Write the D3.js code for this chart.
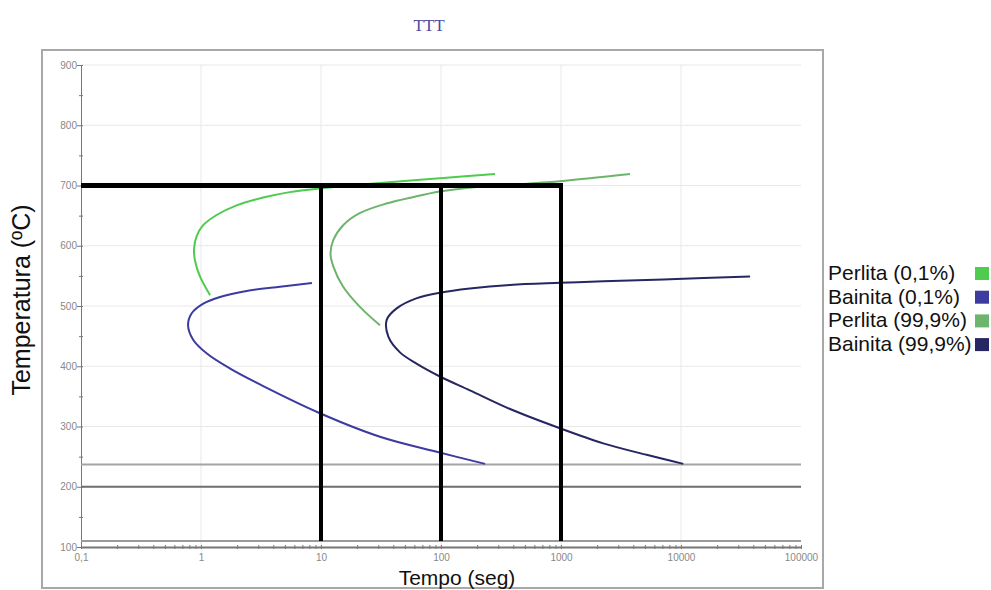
<!DOCTYPE html>
<html>
<head>
<meta charset="utf-8">
<script src="https://cdn.jsdelivr.net/npm/d3@7"></script>
<style>
  body { margin: 0; background: #fff; }
  svg { display: block; font-family: "Liberation Sans", Arial, sans-serif; }
  .axis path, .axis line { stroke: #777; }
  .axis text { fill: #888; font-size: 10px; font-family: "Liberation Sans", Arial, sans-serif; }
</style>
</head>
<body>
<div id="chart"></div>
<script>
// curves: time (s) and temperature (ºC)
const perlitaIniTime = [1.19, 0.98, 0.89, 0.875, 0.92, 1.03, 1.35, 1.98, 3.3, 5.5, 9.8, 16.4, 31, 111, 282];
const perlitaIniTemp = [518, 549, 576, 595, 616, 633, 651, 667, 680, 689, 695, 699.5, 704, 713, 719];

const bainitaIniTime = [8.4, 4.55, 2.4, 1.44, 1.045, 0.837, 0.78, 0.86, 1.12, 1.75, 3.3, 9.8, 31, 92, 233];
const bainitaIniTemp = [538, 532, 525, 515, 504, 488, 468, 444, 421, 396, 367, 322, 283, 258, 238];

const perlitaFinTime = [31, 21, 15.3, 12.7, 12.0, 12.7, 15.3, 21, 35, 59, 98, 211, 455, 977, 3760];
const perlitaFinTemp = [468, 499, 532, 565, 587, 610, 634, 654, 670, 681, 690, 698, 702, 707, 719];

const bainitaFinTime = [37600, 8090, 2250, 981, 376, 174, 98, 63, 42.7, 35.3, 36.4, 45.5, 63, 98, 174, 376, 981, 2250, 5160, 10450];
const bainitaFinTemp = [549, 544.5, 541, 538.5, 535, 529, 522, 513, 496, 477, 449, 423, 404, 383, 360, 329, 297, 272, 253, 238];

const seriesNames = ["Perlita (0,1%)", "Bainita (0,1%)", "Perlita (99,9%)", "Bainita (99,9%)"];
const seriesColors = ["#4fcb4f", "#3b3ba0", "#6db46d", "#262662"];

// reference lines
const msTemp = 237;
const mfTemp = 200;
const lowTemp = 110;
const holdTemp = 700;
const holdTimes = [10, 100, 1000];

const xTicks = [0.1, 1, 10, 100, 1000, 10000, 100000];
const xTickLabels = ["0,1", "1", "10", "100", "1000", "10000", "100000"];
const yTicks = [100, 200, 300, 400, 500, 600, 700, 800, 900];

const W = 991, H = 590;

const svg = d3.select("#chart")
    .append("svg")
    .attr("width", W)
    .attr("height", H);

const x = d3.scaleLog()
    .domain([0.1, 100000])
    .range([81, 801]);

const y = d3.scaleLinear()
    .domain([100, 900])
    .range([547, 65]);

// title
svg.append("text")
    .attr("x", 429)
    .attr("y", 31)
    .attr("text-anchor", "middle")
    .attr("font-family", "'Liberation Serif', 'DejaVu Serif', serif")
    .attr("font-size", 17)
    .attr("fill", "#4a4aa2")
    .text("TTT");

// frame
svg.append("rect")
    .attr("x", 42)
    .attr("y", 50)
    .attr("width", 781)
    .attr("height", 538)
    .attr("fill", "none")
    .attr("stroke", "#a8a8a8")
    .attr("stroke-width", 2);

// grid
svg.append("g")
    .selectAll("line")
    .data(yTicks.filter(d => d > 100))
    .join("line")
    .attr("x1", x(0.1))
    .attr("x2", x(100000))
    .attr("y1", d => y(d))
    .attr("y2", d => y(d))
    .attr("stroke", "#e8e8e8");

svg.append("g")
    .selectAll("line")
    .data(xTicks.slice(1, -1))
    .join("line")
    .attr("x1", d => x(d))
    .attr("x2", d => x(d))
    .attr("y1", y(900))
    .attr("y2", y(100))
    .attr("stroke", "#e8e8e8");

// x axis: minor ticks
const minorX = x.ticks().filter(d => d >= 0.1 && d <= 100000);
const gxMinor = svg.append("g")
    .attr("class", "axis")
    .attr("transform", `translate(0,${y(100)})`)
    .call(d3.axisBottom(x).tickValues(minorX).tickFormat("").tickSizeOuter(0));
gxMinor.select(".domain").attr("stroke", "#666").attr("stroke-width", 2);
gxMinor.selectAll(".tick line").attr("y1", -2).attr("y2", 2).attr("stroke", "#555");

// x axis labels
const gx = svg.append("g")
    .attr("class", "axis")
    .attr("transform", `translate(0,${y(100)})`)
    .call(d3.axisBottom(x)
        .tickValues(xTicks)
        .tickFormat((d, i) => xTickLabels[i])
        .tickSize(2)
        .tickPadding(5));
gx.select(".domain").remove();
gx.selectAll(".tick line").attr("y1", -2).attr("stroke", "#555");

// y axis
const minorY = d3.range(100, 901, 50);
const gy = svg.append("g")
    .attr("class", "axis")
    .attr("transform", `translate(${x(0.1)},0)`)
    .call(d3.axisLeft(y)
        .tickValues(minorY)
        .tickFormat(d => d % 100 === 0 ? d : "")
        .tickSize(3)
        .tickPadding(1)
        .tickSizeOuter(0));
gy.select(".domain").attr("stroke", "#888");
gy.selectAll(".tick line").attr("x2", d => d % 100 === 0 ? -4 : -2).attr("x1", 2).attr("stroke", "#666");

// horizontal temperature lines
const hLines = [
    { t: msTemp, color: "#a4a4a4" },
    { t: mfTemp, color: "#6e6e6e" },
    { t: lowTemp, color: "#9a9a9a" }
];
svg.append("g")
    .selectAll("line")
    .data(hLines)
    .join("line")
    .attr("x1", x(0.1))
    .attr("x2", x(100000))
    .attr("y1", d => y(d.t))
    .attr("y2", d => y(d.t))
    .attr("stroke", d => d.color)
    .attr("stroke-width", 2);

// curves
const curves = [
    { time: perlitaIniTime, temp: perlitaIniTemp },
    { time: bainitaIniTime, temp: bainitaIniTemp },
    { time: perlitaFinTime, temp: perlitaFinTemp },
    { time: bainitaFinTime, temp: bainitaFinTemp }
];

const line = d3.line()
    .x(d => x(d[0]))
    .y(d => y(d[1]))
    .curve(d3.curveCatmullRom.alpha(0.5));

svg.append("g")
    .selectAll("path")
    .data(curves)
    .join("path")
    .attr("d", d => line(d.time.map((t, i) => [t, d.temp[i]])))
    .attr("fill", "none")
    .attr("stroke", (d, i) => seriesColors[i])
    .attr("stroke-width", 2);

// thick black isothermal path
svg.append("line")
    .attr("x1", x(0.1))
    .attr("x2", x(holdTimes[holdTimes.length - 1]) + 2)
    .attr("y1", y(holdTemp))
    .attr("y2", y(holdTemp))
    .attr("stroke", "#000")
    .attr("stroke-width", 5);

svg.append("g")
    .selectAll("line")
    .data(holdTimes)
    .join("line")
    .attr("x1", d => x(d))
    .attr("x2", d => x(d))
    .attr("y1", y(holdTemp))
    .attr("y2", y(lowTemp))
    .attr("stroke", "#000")
    .attr("stroke-width", 4);

// axis titles
svg.append("text")
    .attr("x", 457)
    .attr("y", 585)
    .attr("text-anchor", "middle")
    .attr("font-size", 21)
    .attr("fill", "#111")
    .text("Tempo (seg)");

svg.append("text")
    .attr("transform", "translate(30,300) rotate(-90)")
    .attr("text-anchor", "middle")
    .attr("font-size", 25)
    .attr("fill", "#111")
    .text("Temperatura (ºC)");

// legend
const legend = svg.append("g")
    .selectAll("g")
    .data(seriesNames)
    .join("g")
    .attr("transform", (d, i) => `translate(828,${280 + i * 23.7})`);

legend.append("text")
    .attr("font-size", 21)
    .attr("fill", "#111")
    .text(d => d);

legend.append("rect")
    .attr("x", 147)
    .attr("y", -13)
    .attr("width", 14)
    .attr("height", 13)
    .attr("fill", (d, i) => seriesColors[i]);
</script>
</body>
</html>
